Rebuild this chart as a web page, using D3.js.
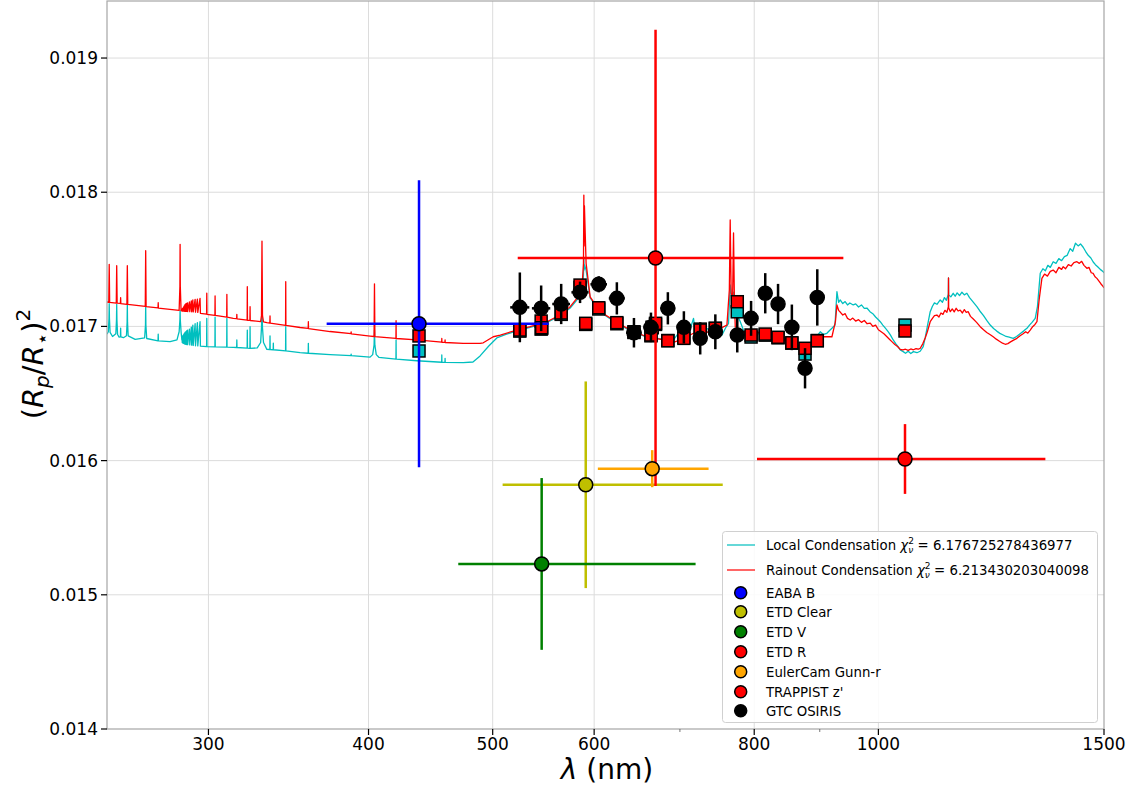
<!DOCTYPE html>
<html><head><meta charset="utf-8">
<script src="https://cdn.jsdelivr.net/npm/d3@7"></script>
<style>body{margin:0;background:#fff} text{font-family:"DejaVu Sans",sans-serif}</style>
</head><body><svg id="c" width="1137" height="785"></svg>
<script>
// ---------------- DATA ----------------
const xTickValues = [300, 400, 500, 600, 800, 1000, 1500];
const xTickLabels = ["300", "400", "500", "600", "800", "1000", "1500"];
const xMinorTicks = [700, 900];
const yTickValues = [0.014, 0.015, 0.016, 0.017, 0.018, 0.019];
const yTickLabels = ["0.014", "0.015", "0.016", "0.017", "0.018", "0.019"];

// Rainout condensation model spectrum [wavelength nm, (Rp/R*)^2]
const rainoutModel = [
[250.0,0.017182],[250.8,0.017180],[251.0,0.017463],[251.2,0.017179],
[254.2,0.017174],[254.4,0.017452],[254.6,0.017173],
[256.1,0.017171],[256.2,0.017214],[256.3,0.017170],
[259.1,0.017165],[259.3,0.017452],[259.5,0.017164],
[267.8,0.017149],[268.0,0.017564],[268.2,0.017148],
[274.0,0.017138],[274.1,0.017177],[274.2,0.017137],
[284.6,0.017120],[285.0,0.017300],[285.1,0.017612],[285.2,0.017300],[285.6,0.017118],
[286.0,0.017116],[286.1,0.017130],[286.2,0.017115],[286.4,0.017135],[286.5,0.017115],[286.7,0.017140],[286.8,0.017114],
[287.0,0.017148],[287.1,0.017114],[287.3,0.017155],[287.4,0.017113],[287.6,0.017162],[287.7,0.017113],
[288.0,0.017168],[288.1,0.017112],[288.4,0.017172],[288.5,0.017112],[288.9,0.017176],[289.0,0.017111],
[289.9,0.017182],[290.1,0.017110],[290.9,0.017190],[291.1,0.017109],[291.7,0.017197],[291.9,0.017108],
[292.9,0.017202],[293.1,0.017106],[294.1,0.017204],[294.3,0.017104],[295.5,0.017209],[295.7,0.017098],
[299.0,0.017091],[299.1,0.017247],[299.2,0.017090],
[303.5,0.017083],[303.6,0.017227],[303.7,0.017082],
[310.0,0.017070],[310.1,0.017239],[310.2,0.017069],
[313.7,0.017060],
[315.6,0.017058],[315.7,0.017090],[315.8,0.017057],
[321.6,0.017047],[321.7,0.017296],[321.8,0.017046],
[323.2,0.017045],[323.3,0.017147],[323.4,0.017044],
[329.5,0.017036],[330.0,0.017080],[330.3,0.017636],[330.6,0.017080],[331.2,0.017034],
[333.2,0.017028],
[335.0,0.017025],[335.1,0.017078],[335.2,0.017024],
[344.6,0.017008],[344.7,0.017333],[344.8,0.017007],
[353.7,0.016992],
[358.9,0.016985],[359.0,0.017035],[359.1,0.016984],
[373.3,0.016962],
[387.6,0.016946],[387.7,0.016960],[387.8,0.016945],
[401.1,0.016928],
[404.0,0.016925],[404.3,0.017317],[404.6,0.016924],
[420.2,0.016911],[420.3,0.017043],[420.4,0.016910],
[436.3,0.016899],
[456.2,0.016883],[456.3,0.016910],[456.4,0.016882],
[458.9,0.016881],[459.0,0.016900],[459.1,0.016880],
[474.2,0.016874],[488.8,0.016874],[491.6,0.016878],[500.5,0.016923],[506.9,0.016936],
[522.1,0.016973],[534.8,0.016998],[551.1,0.017035],[564.4,0.017085],[574.7,0.017147],
[581.6,0.017209],[586.9,0.017271],[588.6,0.017470],[589.0,0.017979],[589.3,0.017600],
[589.6,0.017900],[591.4,0.017470],[595.7,0.017221],[606.5,0.017110],[621.1,0.017048],
[640.0,0.016973],[659.6,0.016923],[679.5,0.016899],[691.9,0.016881],[700.3,0.016899],
[717.3,0.016949],[728.0,0.016940],[739.4,0.016966],[752.6,0.016986],[761.7,0.017010],
[765.0,0.017271],[766.2,0.017793],[767.5,0.017250],[769.5,0.017200],[770.8,0.017696],
[772.0,0.017197],[773.2,0.016998],[784.8,0.016960],[799.0,0.016973],[808.8,0.016949],
[818.5,0.016970],[833.3,0.016923],[845.0,0.016900],[858.6,0.016881],[869.0,0.016850],
[879.5,0.016829],[892.5,0.016911],[906.0,0.016923],[919.9,0.016923],[925.7,0.017035],
[928.2,0.017160],[931.0,0.017120],[933.7,0.017107],[938.0,0.017085],[942.0,0.017095],
[946.0,0.017060],[950.7,0.017048],[955.0,0.017062],[960.0,0.017040],[965.0,0.017050],
[970.0,0.017030],[975.0,0.017044],[980.0,0.017020],[985.5,0.017025],[990.0,0.017000],
[995.0,0.017010],[1000.0,0.016975],[1005.0,0.016960],[1010.0,0.016945],[1015.5,0.016923],
[1020.0,0.016905],[1025.0,0.016885],[1030.0,0.016865],[1035.0,0.016850],[1040.0,0.016829],
[1045.0,0.016825],[1050.0,0.016830],[1055.0,0.016822],[1060.0,0.016832],[1065.0,0.016826],
[1070.0,0.016835],[1074.0,0.016830],[1078.1,0.016837],[1083.0,0.016870],[1087.8,0.016914],
[1092.0,0.016960],[1097.6,0.017035],[1102.0,0.017060],[1106.0,0.017080],[1110.9,0.017085],
[1115.0,0.017070],[1119.0,0.017100],[1123.0,0.017090],[1127.0,0.017120],[1131.0,0.017105],
[1134.0,0.017147],[1134.3,0.017361],[1134.6,0.017140],[1138.0,0.017110],[1142.0,0.017130],
[1146.0,0.017108],[1150.0,0.017135],[1154.0,0.017115],[1158.4,0.017122],[1163.0,0.017100],
[1167.0,0.017125],[1171.0,0.017105],[1175.2,0.017110],[1180.0,0.017075],[1186.0,0.017055],
[1193.0,0.017030],[1200.8,0.016998],[1208.0,0.016975],[1215.0,0.016955],[1222.0,0.016940],
[1229.2,0.016923],[1236.0,0.016905],[1243.0,0.016890],[1250.0,0.016875],[1256.0,0.016867],
[1262.0,0.016872],[1268.0,0.016885],[1275.0,0.016898],[1282.7,0.016911],[1290.0,0.016930],
[1297.0,0.016945],[1303.0,0.016960],[1308.0,0.016950],[1313.7,0.016973],[1320.0,0.017000],
[1325.0,0.017015],[1329.7,0.017035],[1335.0,0.017200],[1341.6,0.017358],[1348.0,0.017390],
[1355.0,0.017375],[1362.0,0.017410],[1369.1,0.017420],[1376.0,0.017400],[1383.0,0.017440],
[1390.0,0.017425],[1394.0,0.017445],[1400.0,0.017430],[1407.0,0.017460],[1414.0,0.017450],
[1421.0,0.017475],[1428.7,0.017482],[1435.0,0.017470],[1441.0,0.017485],[1447.0,0.017455],
[1454.6,0.017433],[1460.0,0.017440],[1466.0,0.017400],[1471.0,0.017395],[1476.0,0.017370],
[1481.0,0.017358],[1486.0,0.017340],[1491.0,0.017320],[1497.9,0.017296],[1500.0,0.017286]
];

// Local condensation model spectrum [wavelength nm, (Rp/R*)^2]
const localModel = [
[250.0,0.016943],[250.6,0.016960],[250.9,0.017060],[251.0,0.017170],[251.1,0.017060],[251.4,0.016955],
[252.5,0.016925],
[254.0,0.016945],[254.3,0.017050],[254.4,0.017165],[254.5,0.017050],[254.8,0.016940],
[255.5,0.016920],
[256.1,0.016922],[256.2,0.016988],[256.3,0.016922],
[257.5,0.016916],
[258.9,0.016930],[259.2,0.017030],[259.3,0.017160],[259.4,0.017030],[259.7,0.016930],
[263.0,0.016904],
[267.5,0.016915],[267.9,0.017010],[268.0,0.017150],[268.1,0.017010],[268.5,0.016910],
[274.0,0.016893],[274.1,0.016943],[274.2,0.016893],
[280.0,0.016886],
[283.5,0.016900],[284.6,0.016960],[285.0,0.017050],[285.1,0.017120],[285.2,0.017050],[285.6,0.016960],[286.0,0.016900],
[286.1,0.016925],[286.2,0.016880],[286.4,0.016930],[286.5,0.016876],[286.7,0.016935],[286.8,0.016874],
[287.0,0.016942],[287.1,0.016872],[287.3,0.016948],[287.4,0.016870],[287.6,0.016955],[287.7,0.016868],
[288.0,0.016960],[288.1,0.016866],[288.4,0.016966],[288.5,0.016865],[288.9,0.016972],[289.0,0.016864],
[289.9,0.016980],[290.1,0.016862],[290.9,0.016995],[291.1,0.016860],[291.7,0.017010],[291.9,0.016858],
[292.9,0.017020],[293.1,0.016856],[294.1,0.017028],[294.3,0.016855],[295.5,0.017035],[295.7,0.016853],
[299.0,0.016850],[299.1,0.017060],[299.2,0.016850],
[303.5,0.016847],[303.6,0.017070],[303.7,0.016847],
[310.0,0.016845],[310.1,0.017060],[310.2,0.016845],
[313.7,0.016844],
[315.6,0.016843],[315.7,0.016899],[315.8,0.016843],
[321.6,0.016838],[321.7,0.016973],[321.8,0.016838],
[323.2,0.016836],[323.3,0.016998],[323.4,0.016836],
[327.5,0.016840],[329.5,0.016880],[330.0,0.016990],[330.3,0.017110],[330.6,0.016990],[331.2,0.016880],[333.2,0.016829],
[335.0,0.016828],[335.1,0.016929],[335.2,0.016828],
[337.0,0.016826],[337.1,0.016876],[337.2,0.016826],
[344.6,0.016818],[344.7,0.016998],[344.8,0.016818],
[353.7,0.016804],
[358.9,0.016800],[359.0,0.016874],[359.1,0.016800],
[373.3,0.016790],
[387.6,0.016782],[387.7,0.016794],[387.8,0.016782],
[401.1,0.016771],[403.0,0.016790],[404.0,0.016860],[404.3,0.016973],[404.6,0.016860],[405.6,0.016790],[407.5,0.016770],
[420.2,0.016756],[420.3,0.016899],[420.4,0.016756],
[436.3,0.016744],
[456.2,0.016733],[456.3,0.016787],[456.4,0.016733],
[458.9,0.016732],[459.0,0.016762],[459.1,0.016732],
[474.2,0.016730],[482.6,0.016735],[488.8,0.016780],[496.5,0.016854],[503.7,0.016914],[512.0,0.016940],
[522.1,0.016966],[534.8,0.016992],[551.1,0.017029],[564.4,0.017078],[574.7,0.017137],[581.6,0.017197],
[586.9,0.017249],[588.6,0.017383],[589.0,0.017500],[589.3,0.017420],[589.6,0.017460],[591.4,0.017420],
[595.7,0.017212],[606.5,0.017107],[621.1,0.017040],[640.0,0.016969],[659.6,0.016921],[679.5,0.016906],
[691.9,0.016899],[697.0,0.016940],[700.0,0.016915],[704.0,0.016950],[708.0,0.016930],[712.0,0.016960],
[717.3,0.017060],[719.8,0.016960],[725.0,0.016975],[730.6,0.016973],[735.0,0.016985],[740.0,0.016965],
[746.0,0.016956],[750.0,0.016970],[755.0,0.016936],[760.0,0.016990],[763.9,0.017023],[766.2,0.017309],
[768.6,0.017197],[770.8,0.017256],[773.2,0.017122],[780.2,0.017035],[787.3,0.016936],[794.4,0.016911],
[800.0,0.016950],[804.0,0.016930],[808.8,0.016973],[813.0,0.016950],[818.0,0.016965],[823.4,0.016949],
[828.0,0.016955],[833.0,0.016935],[838.3,0.016936],[845.0,0.016915],[853.5,0.016899],[860.0,0.016870],
[865.0,0.016850],[869.0,0.016824],[874.0,0.016800],[879.5,0.016787],[884.0,0.016830],[890.0,0.016936],
[895.0,0.016925],[900.8,0.016960],[906.0,0.016940],[911.6,0.016949],[916.0,0.016970],[919.9,0.016986],
[925.0,0.017010],[928.2,0.017259],[931.0,0.017180],[933.7,0.017197],[938.0,0.017170],[942.0,0.017185],
[946.0,0.017160],[950.0,0.017175],[955.8,0.017160],[960.0,0.017168],[965.0,0.017145],[970.0,0.017160],
[975.0,0.017135],[979.6,0.017137],[985.0,0.017110],[990.0,0.017095],[995.0,0.017070],[1000.0,0.017050],
[1003.3,0.017035],[1008.0,0.017010],[1013.0,0.016985],[1018.0,0.016960],[1022.0,0.016935],[1027.0,0.016899],
[1032.0,0.016870],[1036.0,0.016850],[1040.0,0.016825],[1045.6,0.016812],[1050.0,0.016800],[1055.0,0.016815],
[1060.0,0.016798],[1065.0,0.016812],[1071.7,0.016804],[1078.0,0.016815],[1083.9,0.016849],[1088.0,0.016920],
[1092.0,0.017000],[1097.6,0.017110],[1102.0,0.017150],[1106.0,0.017175],[1111.0,0.017165],[1117.5,0.017197],
[1122.0,0.017180],[1126.0,0.017215],[1130.0,0.017195],[1134.0,0.017240],[1134.3,0.017361],[1134.6,0.017235],
[1139.0,0.017220],[1143.9,0.017247],[1148.0,0.017225],[1152.0,0.017250],[1157.0,0.017230],[1162.0,0.017255],
[1167.0,0.017235],[1172.4,0.017247],[1178.0,0.017215],[1185.0,0.017185],[1193.7,0.017147],[1200.0,0.017115],
[1208.0,0.017080],[1215.0,0.017045],[1222.6,0.017010],[1230.0,0.016985],[1237.0,0.016965],[1244.0,0.016948],
[1251.5,0.016936],[1258.0,0.016925],[1265.0,0.016920],[1274.2,0.016911],[1282.0,0.016925],[1290.0,0.016945],
[1298.0,0.016965],[1306.0,0.016986],[1312.0,0.017010],[1318.0,0.017030],[1325.6,0.017060],[1331.0,0.017150],
[1337.6,0.017396],[1344.0,0.017430],[1350.0,0.017415],[1356.0,0.017455],[1362.0,0.017440],[1369.1,0.017482],
[1376.0,0.017470],[1383.0,0.017505],[1390.0,0.017490],[1397.0,0.017520],[1404.0,0.017530],[1411.6,0.017580],
[1418.0,0.017560],[1425.0,0.017620],[1432.0,0.017600],[1438.0,0.017615],[1444.9,0.017590],[1451.0,0.017560],
[1458.0,0.017530],[1465.0,0.017510],[1471.2,0.017480],[1477.0,0.017460],[1483.0,0.017445],[1490.0,0.017425],
[1497.9,0.017408],[1500.0,0.017398]
];

// Binned models (squares)
const binWavelengths = [438, 525, 545.5, 546, 565.5, 585, 591, 605, 625, 644.5, 664.5, 666, 670, 685, 705, 726, 746, 776, 795.5, 816, 835, 856, 876.5, 896, 1049];
const binLocal =   [0.016817,0.016965,0.016980,0.016985,0.017090,0.017290,0.017015,0.017130,0.017020,0.016960,0.016930,0.016990,0.017015,0.016895,0.016920,0.016980,0.016985,0.017109,0.016921,0.016935,0.016915,0.016875,0.016794,0.016895,0.017010];
const binRainout = [0.016929,0.016973,0.017040,0.016990,0.017100,0.017308,0.017023,0.017139,0.017028,0.016955,0.016936,0.016995,0.017023,0.016893,0.016911,0.016973,0.016986,0.017184,0.016936,0.016943,0.016919,0.016878,0.016837,0.016893,0.016966];

// Photometric observations
const photoNames = ["EABA B", "ETD Clear", "ETD V", "ETD R", "EulerCam Gunn-r", "TRAPPIST z'"];
const photoColors = ["#0000ff", "#bfbf00", "#008000", "#ff0000", "#ffa500", "#ff0000"];
const photoWavelength = [438, 591, 546, 670, 666, 1049];
const photoBandLow = [371, 509, 470, 523, 604, 804];
const photoBandHigh = [553, 756, 720, 939, 737, 1350];
const photoDepth = [0.01702, 0.01582, 0.01523, 0.01751, 0.01594, 0.016012];
const photoErr = [0.00107, 0.00077, 0.00064, 0.0017, 0.000138, 0.00026];

// GTC OSIRIS spectroscopic points
const gtcWavelength = [525, 545.5, 565.5, 585, 605, 625, 644.5, 664.5, 685, 705, 726, 746, 776, 795.5, 816, 835, 856, 876.5, 896];
const gtcDepth = [0.017142,0.017135,0.017167,0.017254,0.017314,0.017209,0.016953,0.016993,0.017135,0.016993,0.016911,0.016960,0.016936,0.017060,0.017247,0.017167,0.016993,0.016688,0.017216];
const gtcErr = [0.00026,0.00017,0.00015,0.00008,0.00006,0.00012,0.00011,0.00011,0.00012,0.00012,0.00012,0.00013,0.00013,0.00013,0.00015,0.00015,0.00017,0.00015,0.00021];
const gtcHalfBin = 9;

const modelLabels = ["Local Condensation ", "Rainout Condensation "];
const modelChi = ["6.176725278436977", "6.213430203040098"];
const modelColors = ["#00bfbf", "#ff0000"];

// ---------------- DRAW ----------------
const L = 107, R = 1104, T = 1, B = 729;
const svg = d3.select("#c");
const x = d3.scaleLog().domain([250, 1500]).range([L, R]);
const y = d3.scaleLinear().domain([0.014, 0.019425]).range([B, T]);

svg.append("defs").append("clipPath").attr("id", "clip")
  .append("rect").attr("x", L).attr("y", T).attr("width", R - L).attr("height", B - T);

// grid
const grid = svg.append("g");
grid.selectAll(".gx").data(xTickValues.filter(v => v < 1500)).enter().append("line")
  .attr("x1", d => x(d)).attr("x2", d => x(d)).attr("y1", T).attr("y2", B)
  .attr("stroke", "#dcdcdc").attr("stroke-width", 1);
grid.selectAll(".gy").data(yTickValues.filter(v => v > 0.014)).enter().append("line")
  .attr("y1", d => y(d)).attr("y2", d => y(d)).attr("x1", L).attr("x2", R)
  .attr("stroke", "#dcdcdc").attr("stroke-width", 1);

const plot = svg.append("g").attr("clip-path", "url(#clip)");
const line = d3.line().x(d => x(d[0])).y(d => y(d[1]));
plot.append("path").datum(localModel).attr("d", line).attr("fill", "none")
  .attr("stroke", modelColors[0]).attr("stroke-width", 1.3).attr("stroke-linejoin", "round");
plot.append("path").datum(rainoutModel).attr("d", line).attr("fill", "none")
  .attr("stroke", modelColors[1]).attr("stroke-width", 1.3).attr("stroke-linejoin", "round");

// binned squares
const sq = 12;
plot.selectAll(".sl").data(binWavelengths).enter().append("rect")
  .attr("x", d => x(d) - sq / 2).attr("y", (d, i) => y(binLocal[i]) - sq / 2)
  .attr("width", sq).attr("height", sq).attr("fill", modelColors[0]).attr("stroke", "#000").attr("stroke-width", 1.5);
plot.selectAll(".sr").data(binWavelengths).enter().append("rect")
  .attr("x", d => x(d) - sq / 2).attr("y", (d, i) => y(binRainout[i]) - sq / 2)
  .attr("width", sq).attr("height", sq).attr("fill", modelColors[1]).attr("stroke", "#000").attr("stroke-width", 1.5);

// photometric points
photoNames.forEach((n, i) => {
  const g = plot.append("g");
  const c = photoColors[i];
  g.append("line").attr("x1", x(photoBandLow[i])).attr("x2", x(photoBandHigh[i]))
    .attr("y1", y(photoDepth[i])).attr("y2", y(photoDepth[i])).attr("stroke", c).attr("stroke-width", 2.5);
  g.append("line").attr("x1", x(photoWavelength[i])).attr("x2", x(photoWavelength[i]))
    .attr("y1", y(photoDepth[i] - photoErr[i])).attr("y2", y(photoDepth[i] + photoErr[i])).attr("stroke", c).attr("stroke-width", 2.5);
  g.append("circle").attr("cx", x(photoWavelength[i])).attr("cy", y(photoDepth[i])).attr("r", 7)
    .attr("fill", c).attr("stroke", "#000").attr("stroke-width", 1.5);
});

// GTC
const gg = plot.append("g");
gtcWavelength.forEach((w, i) => {
  gg.append("line").attr("x1", x(w - gtcHalfBin)).attr("x2", x(w + gtcHalfBin))
    .attr("y1", y(gtcDepth[i])).attr("y2", y(gtcDepth[i])).attr("stroke", "#000").attr("stroke-width", 2.5);
  gg.append("line").attr("x1", x(w)).attr("x2", x(w))
    .attr("y1", y(gtcDepth[i] - gtcErr[i])).attr("y2", y(gtcDepth[i] + gtcErr[i])).attr("stroke", "#000").attr("stroke-width", 2.5);
  gg.append("circle").attr("cx", x(w)).attr("cy", y(gtcDepth[i])).attr("r", 7)
    .attr("fill", "#000").attr("stroke", "#000").attr("stroke-width", 1.5);
});

// frame
svg.append("rect").attr("x", L).attr("y", T).attr("width", R - L).attr("height", B - T)
  .attr("fill", "none").attr("stroke", "#a6a6a6").attr("stroke-width", 1.2);

// axes
const ax = svg.append("g");
xTickValues.forEach((v, i) => {
  ax.append("line").attr("x1", x(v)).attr("x2", x(v)).attr("y1", B).attr("y2", B + 6).attr("stroke", "#000").attr("stroke-width", 1.2);
  ax.append("text").attr("x", x(v)).attr("y", B + 21).attr("text-anchor", "middle").attr("font-size", 17).text(xTickLabels[i]);
});
xMinorTicks.forEach(v => {
  ax.append("line").attr("x1", x(v)).attr("x2", x(v)).attr("y1", B).attr("y2", B + 3).attr("stroke", "#555").attr("stroke-width", 0.8);
});
yTickValues.forEach((v, i) => {
  ax.append("line").attr("x1", L - 6).attr("x2", L).attr("y1", y(v)).attr("y2", y(v)).attr("stroke", "#000").attr("stroke-width", 1.2);
  ax.append("text").attr("x", L - 9).attr("y", y(v) + 6).attr("text-anchor", "end").attr("font-size", 17).text(yTickLabels[i]);
});

// axis labels
const xl = svg.append("text").attr("x", 607).attr("y", 779).attr("text-anchor", "middle").attr("font-size", 28);
xl.append("tspan").attr("font-style", "italic").text("λ");
xl.append("tspan").text(" (nm)");

const yl = svg.append("text").attr("transform", "translate(43,364) rotate(-90)").attr("text-anchor", "middle").attr("font-size", 29);
yl.append("tspan").text("(");
yl.append("tspan").attr("font-style", "italic").text("R");
yl.append("tspan").attr("font-style", "italic").attr("font-size", 20).attr("dy", 6).text("p");
yl.append("tspan").attr("dy", -6).text("/");
yl.append("tspan").attr("font-style", "italic").text("R");
yl.append("tspan").attr("font-size", 20).attr("dy", 6).text("⋆");
yl.append("tspan").attr("dy", -6).text(")");
yl.append("tspan").attr("font-size", 20).attr("dy", -13).text("2");

// legend
const lg = svg.append("g");
lg.append("rect").attr("x", 722.5).attr("y", 531.5).attr("width", 375).attr("height", 191).attr("rx", 3)
  .attr("fill", "#fff").attr("fill-opacity", 0.85).attr("stroke", "#d0d0d0");
const lineRows = [545, 570];
modelLabels.forEach((lab, i) => {
  const yy = lineRows[i];
  lg.append("line").attr("x1", 727).attr("x2", 755).attr("y1", yy).attr("y2", yy).attr("stroke", modelColors[i]).attr("stroke-width", 1.5).attr("stroke-opacity", 0.8);
  const t = lg.append("text").attr("x", 766).attr("y", yy + 5).attr("font-size", 13.3);
  t.append("tspan").text(lab);
  t.append("tspan").attr("font-style", "italic").text("χ");
  t.append("tspan").attr("font-size", 9).attr("dy", -6).text("2");
  t.append("tspan").attr("font-size", 9).attr("font-style", "italic").attr("dx", -5.7).attr("dy", 9).text("ν");
  t.append("tspan").attr("dy", -3).text(" = " + modelChi[i]);
});
const markerNames = photoNames.concat(["GTC OSIRIS"]);
const markerColors = photoColors.concat(["#000"]);
const markerRows = [592.7, 611.7, 631.7, 651.7, 671.7, 691.7, 710.7];
markerNames.forEach((n, i) => {
  lg.append("circle").attr("cx", 740.7).attr("cy", markerRows[i]).attr("r", 6).attr("fill", markerColors[i]).attr("stroke", "#000").attr("stroke-width", 1.5);
  lg.append("text").attr("x", 766).attr("y", markerRows[i] + 5).attr("font-size", 13.3).text(n);
});
</script></body></html>
